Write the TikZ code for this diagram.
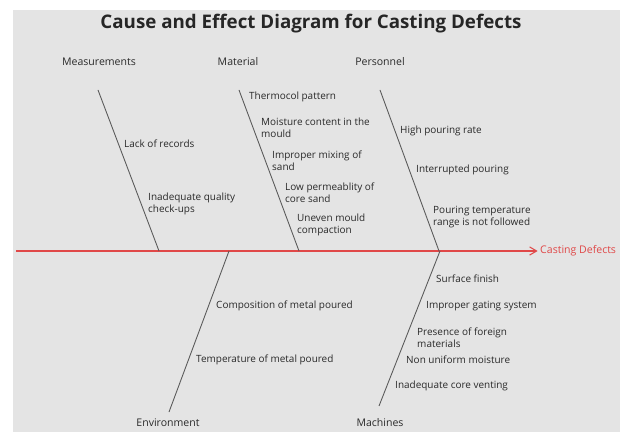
\documentclass[tikz,border=0pt]{standalone}
\usepackage{fontspec}
\setmainfont{Open Sans}
\usetikzlibrary{arrows.meta}
\usetikzlibrary{positioning}

\definecolor{bggray}{HTML}{E4E4E4}
\definecolor{spinered}{HTML}{E04848}
\definecolor{txtgray}{HTML}{2A2A2A}
\definecolor{bonegray}{HTML}{5A5A5A}

\begin{document}
\begin{tikzpicture}[x=0.03cm,y=-0.03cm,
    cause/.style={anchor=west,inner sep=0pt,align=left,text=txtgray,
        font=\fontsize{8.5}{10.2}\selectfont},
    category/.style={inner sep=0pt,text=txtgray,font=\fontsize{9}{10.2}\selectfont},
    bone/.style={bonegray,line width=0.75pt}]
    \useasboundingbox (0,0) rectangle (620,432);
    \fill[white] (0,0) rectangle (620,432);
    \fill[bggray] (13,10) rectangle (620,432);

    \node[text=black!85,font=\bfseries\fontsize{16}{18}\selectfont] (title) at (311,24)
        {Cause and Effect Diagram for Casting Defects};

    % spine and effect
    \coordinate (tail) at (16,251);
    \node[inner sep=0pt,anchor=west,text=spinered,font=\fontsize{9}{10.2}\selectfont]
        (effect) at (540,251) {Casting Defects};
    \draw[draw=spinered,line width=0.9pt,-{Straight Barb[length=6pt,width=7pt]}]
        (tail) -- ([xshift=-2pt]effect.west);

    % categories
    \node[category] (meas) at (99,62) {Measurements};
    \node[category] (matl) at (238,62) {Material};
    \node[category] (pers) at (380,62) {Personnel};
    \node[category] (envi) at (168,423) {Environment};
    \node[category] (mach) at (380,423) {Machines};

    \coordinate (meastop) at (98,90);
    \coordinate (matltop) at (239,90);
    \coordinate (perstop) at (380,90);
    \coordinate (envibot) at (169,412);
    \coordinate (machbot) at (379,406);
    \coordinate (measjoin) at (159,251);
    \coordinate (matljoin) at (299,251);
    \coordinate (persjoin) at (439,251);
    \coordinate (envijoin) at (229,251);
    \coordinate (machjoin) at (440,251);

    \draw[bone] (meastop) -- (measjoin);
    \draw[bone] (matltop) -- (matljoin);
    \draw[bone] (perstop) -- (persjoin);
    \draw[bone] (envibot) -- (envijoin);
    \draw[bone] (machbot) -- (machjoin);

    % causes
    \node[cause] (records) at (124,144) {Lack of records};
    \node[cause] (checkups) at (148,204) {Inadequate quality\\check-ups};

    \node[cause] (thermocol) at (249,97) {Thermocol pattern};
    \node[cause] (moisture) at (261,128) {Moisture content in the\\mould};
    \node[cause] (mixing) at (272,161) {Improper mixing of\\sand};
    \node[cause] (permeab) at (285,193) {Low permeablity of\\core sand};
    \node[cause] (uneven) at (297,225) {Uneven mould\\compaction};

    \node[cause] (highrate) at (400,131) {High pouring rate};
    \node[cause] (interrupt) at (416,170) {Interrupted pouring};
    \node[cause] (temprange) at (433,217) {Pouring temperature\\range is not followed};

    \node[cause] (composition) at (216,306) {Composition of metal poured};
    \node[cause] (metaltemp) at (196,360) {Temperature of metal poured};

    \node[cause] (surface) at (436,279) {Surface finish};
    \node[cause] (gating) at (426,306) {Improper gating system};
    \node[cause] (foreign) at (417,338) {Presence of foreign\\materials};
    \node[cause] (nonuniform) at (406,360) {Non uniform moisture};
    \node[cause] (venting) at (395,386) {Inadequate core venting};
\end{tikzpicture}
\end{document}
